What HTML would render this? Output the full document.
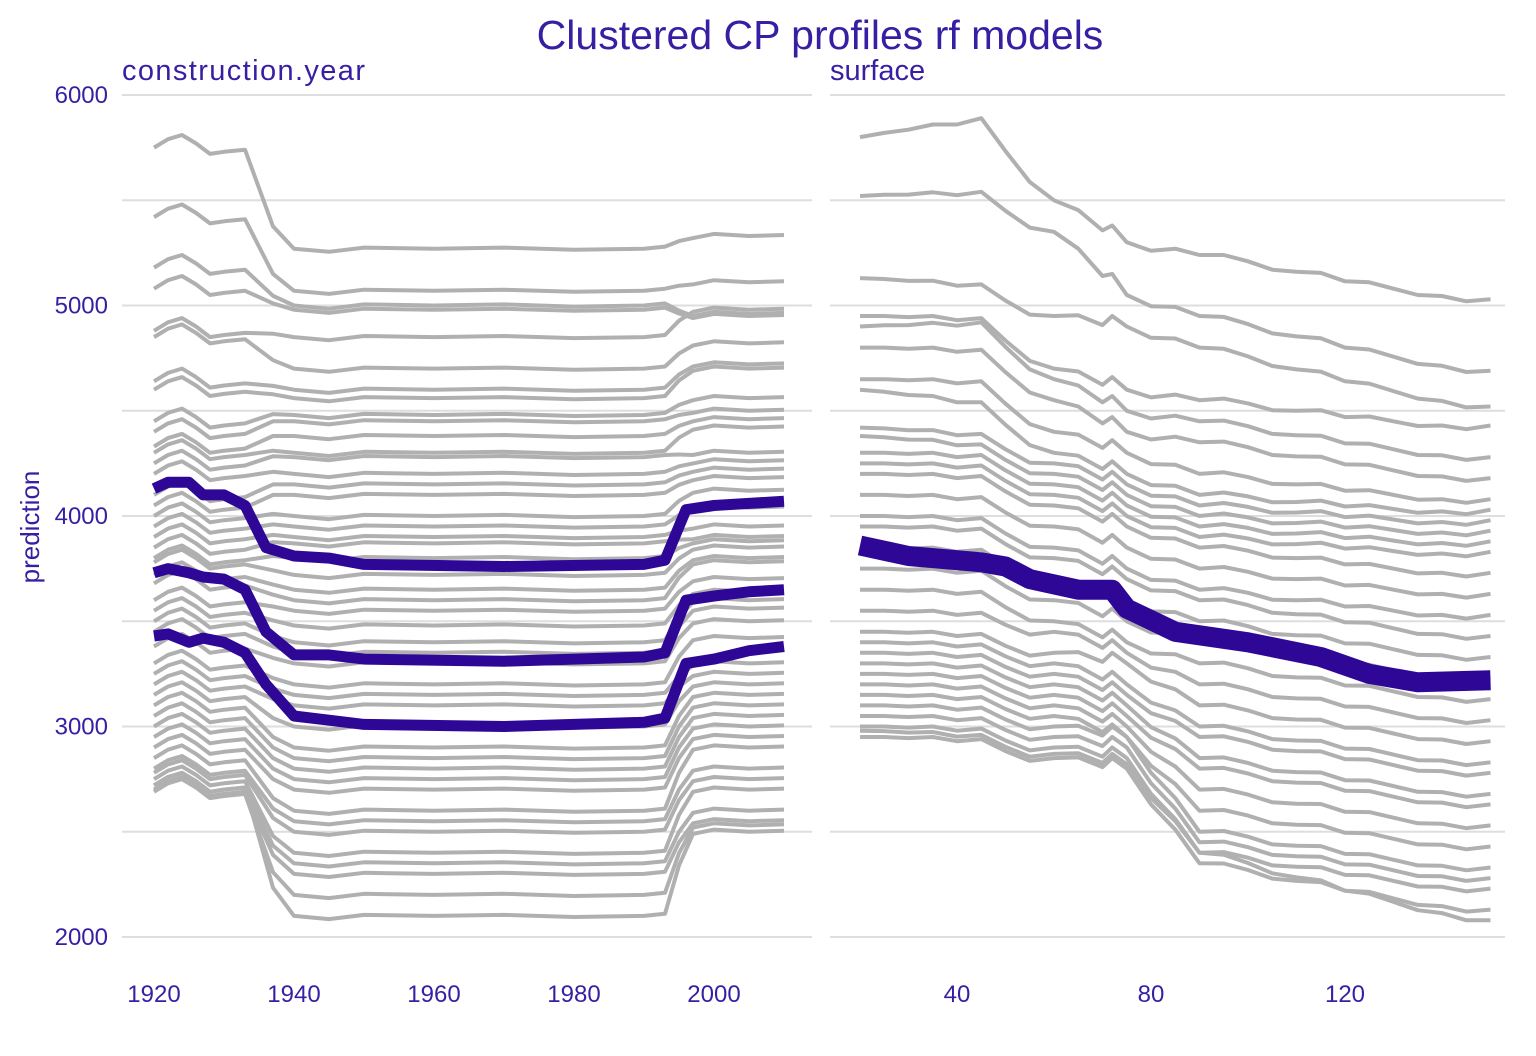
<!DOCTYPE html>
<html><head><meta charset="utf-8"><style>
html,body{margin:0;padding:0;background:#fff;}
svg{display:block;font-family:"Liberation Sans",Arial,sans-serif;}
</style></head><body>
<svg id="chart" width="1536" height="1056" xmlns="http://www.w3.org/2000/svg">
<text x="820" y="49" text-anchor="middle" font-size="41" fill="#371ea3">Clustered CP profiles rf models</text>
<text x="122" y="80" font-size="29" fill="#371ea3" textLength="243">construction.year</text>
<text x="830" y="80" font-size="29" fill="#371ea3">surface</text>
<text transform="translate(39,527) rotate(-90)" text-anchor="middle" font-size="26" fill="#371ea3">prediction</text>
<g id="grid"></g><g id="ticks"></g><g id="gray"></g><g id="purple"></g>
</svg>
<script>
// ---- data ----
const yTicks=[2000,3000,4000,5000,6000];
const yGrid=[2000,2500,3000,3500,4000,4500,5000,5500,6000];
const leftTicks=[1920,1940,1960,1980,2000];
const rightTicks=[40,80,120];
const leftLines=[[5750,5270,5330],[5420,5070,5110],[5180,5000,4960],[5080,4980,4950],[4880,4850,4980],[4850,4700,4820],[4640,4600,4720],[4600,4560,4700],[4450,4480,4560],[4400,4450,4500],[4330,4380,4460],[4300,4300,4420],[4250,4280,4300],[4200,4200,4260],[4100,4150,4220],[4050,4100,4180],[4000,4000,4120],[3950,3950,4040],[3900,3900,3950],[3850,3870,3900],[3800,3800,3880],[3780,3720,3850],[3720,3650,3800],[3680,3600,3780],[3600,3550,3700],[3550,3480,3640],[3500,3400,3600],[3450,3350,3560],[3380,3300,3500],[3300,3200,3420],[3250,3150,3300],[3200,3100,3250],[3150,3000,3200],[3100,2900,3150],[3050,2850,3100],[3000,2800,3050],[2950,2750,3000],[2900,2700,2950],[2850,2600,2900],[2800,2550,2800],[2780,2500,2750],[2750,2400,2700],[2720,2350,2600],[2700,2300,2550],[2690,2200,2530],[2720,2100,2500]];
const leftYears=[1920,1922,1924,1926,1928,1930,1933,1935,1937,1940,1945,1950,1960,1970,1980,1990,1993,1995,1997,2000,2005,2010];
const leftStage=[0,0,0,0,0,0,0,0.4,0.8,1,1,1,1,1,1,1,1,1.6,2,2,2,2];
const leftWiggle=[0,40,60,20,-30,-20,-10,0,10,0,-15,5,0,5,-5,0,10,0,-10,10,0,5];
const rightX=[20,45,60,75,90,150];
const rightLines=[[5800,5850,5500,5300,5240,5000],[5520,5500,5350,5050,4950,4660],[5130,5060,4950,4900,4800,4490],[4950,4900,4700,4600,4550,4400],[4900,4880,4650,4500,4450,4250],[4800,4750,4550,4400,4350,4150],[4650,4600,4400,4300,4200,4050],[4600,4500,4300,4200,4100,4000],[4420,4350,4250,4150,4050,3950],[4380,4300,4200,4100,4000,3900],[4300,4250,4150,4050,3950,3850],[4250,4200,4100,4000,3900,3800],[4200,4150,4050,3950,3850,3700],[4100,4050,3950,3850,3750,3600],[4000,3950,3850,3750,3650,3500],[3950,3900,3800,3700,3600,3400],[3850,3800,3700,3600,3500,3300],[3750,3700,3600,3500,3400,3200],[3650,3600,3500,3400,3300,3100],[3550,3500,3450,3350,3200,3000],[3450,3400,3350,3300,3100,2900],[3400,3350,3300,3200,3000,2800],[3350,3300,3250,3150,2950,2750],[3300,3250,3200,3100,2850,2650],[3250,3200,3150,3050,2800,2600],[3200,3150,3100,3000,2700,2500],[3150,3100,3050,2950,2600,2400],[3100,3050,3000,2950,2500,2300],[3050,3000,2950,2900,2450,2250],[3000,2950,2900,2850,2400,2200],[2950,2900,2850,2800,2350,2100],[2980,2920,2870,2820,2400,2050]];
const rightFineX=[20,25,30,35,40,45,50,55,60,65,70,72,75,80,85,90,95,100,105,110,115,120,125,130,135,140,145,150];
const rightWiggle=[0,10,15,30,20,40,0,-30,0,20,-10,40,0,-20,10,0,20,10,-10,0,15,-5,10,0,-10,5,0,30];
const purpleYears=[1920,1922,1925,1927,1930,1933,1936,1940,1945,1950,1970,1990,1993,1996,2000,2005,2010];
const purple1=[4130,4160,4160,4100,4100,4050,3850,3810,3800,3770,3760,3770,3790,4030,4050,4060,4070];
const purple2=[3730,3750,3730,3710,3700,3650,3450,3340,3340,3320,3310,3330,3350,3600,3620,3640,3650];
const purple3=[3430,3440,3400,3420,3400,3350,3200,3050,3030,3010,3000,3020,3040,3300,3320,3360,3380];
const purpleSurfX=[20,30,45,50,55,65,72,75,85,100,115,125,135,150];
const purpleSurf=[3860,3810,3780,3760,3700,3650,3650,3560,3450,3400,3330,3250,3210,3220];
// ---- scales ----
const y=v=>95+(6000-v)*0.2105;
const xl=v=>154+(v-1920)*7;
const xr=v=>957+(v-40)*4.85;
const NS="http://www.w3.org/2000/svg";
function mk(t,parent,attrs){const e=document.createElementNS(NS,t);for(const k in attrs)e.setAttribute(k,attrs[k]);parent.appendChild(e);return e;}
const grid=document.getElementById('grid'),ticks=document.getElementById('ticks'),gray=document.getElementById('gray'),purple=document.getElementById('purple');
yGrid.forEach(v=>{
 [[122,812],[830,1505]].forEach(([a,b])=>{
  const l=mk('line',grid,{x1:a,x2:b,y1:y(v),y2:y(v),stroke:'#dedede','stroke-width':2});
  
  
 });
});
yTicks.forEach(v=>{
 const t=mk('text',ticks,{x:108,y:y(v)+8,'text-anchor':'end','font-size':24,fill:'#371ea3'});t.textContent=v;
 
 
});
leftTicks.forEach(v=>{
 const t=mk('text',ticks,{x:xl(v),y:1002,'text-anchor':'middle','font-size':24,fill:'#371ea3'});t.textContent=v;
 
 
});
rightTicks.forEach(v=>{
 const t=mk('text',ticks,{x:xr(v),y:1002,'text-anchor':'middle','font-size':24,fill:'#371ea3'});t.textContent=v;
 
 
});
function stageVal(ln,s){return s<=1?ln[0]+(ln[1]-ln[0])*s:ln[1]+(ln[2]-ln[1])*(s-1);}
function interp(xs,vs,x){for(let i=0;i<xs.length-1;i++){if(x<=xs[i+1]){const t=(x-xs[i])/(xs[i+1]-xs[i]);return vs[i]+(vs[i+1]-vs[i])*t;}}return vs[vs.length-1];}
leftLines.forEach(ln=>{
 const pts=leftYears.map((yr,i)=>xl(yr).toFixed(1)+','+y(stageVal(ln,leftStage[i])+leftWiggle[i]).toFixed(1)).join(' ');
 const p=mk('polyline',gray,{points:pts,fill:'none',stroke:'#b0b0b0','stroke-width':4,'stroke-linejoin':'round'});
 
 
});
rightLines.forEach(ln=>{
 const pts=rightFineX.map((sx,i)=>xr(sx).toFixed(1)+','+y(interp(rightX,ln,sx)+rightWiggle[i]).toFixed(1)).join(' ');
 const p=mk('polyline',gray,{points:pts,fill:'none',stroke:'#b0b0b0','stroke-width':4,'stroke-linejoin':'round'});
 
 
});
[purple1,purple2,purple3].forEach(arr=>{
 const pts=purpleYears.map((yr,i)=>xl(yr).toFixed(1)+','+y(arr[i]).toFixed(1)).join(' ');
 const p=mk('polyline',purple,{points:pts,fill:'none',stroke:'#2e0796','stroke-width':11,'stroke-linejoin':'round'});
 
 
});
{
 const pts=purpleSurfX.map((sx,i)=>xr(sx).toFixed(1)+','+y(purpleSurf[i]).toFixed(1)).join(' ');
 const p=mk('polyline',purple,{points:pts,fill:'none',stroke:'#2e0796','stroke-width':20,'stroke-linejoin':'round'});
 
 
}
</script>
</body></html>
